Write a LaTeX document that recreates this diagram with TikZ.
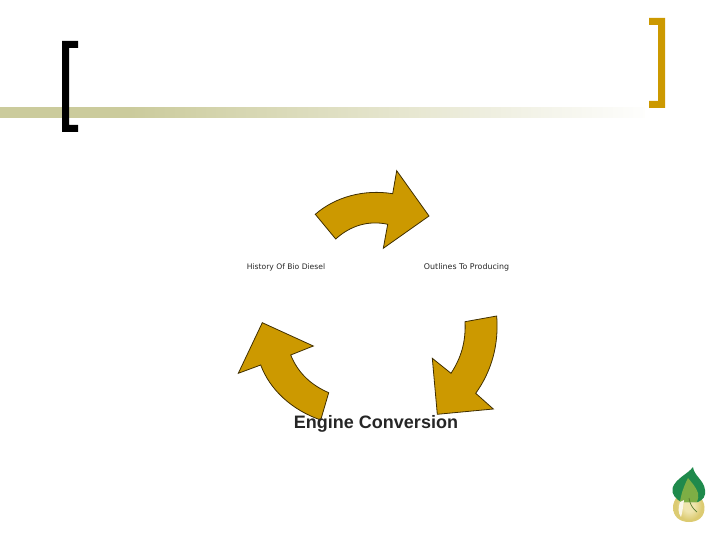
\documentclass[tikz,border=0pt]{standalone}
\usepackage{fontspec}
\setmainfont{Liberation Sans}
\newfontfamily\smallfont{DejaVu Sans}
\definecolor{gold}{HTML}{CC9900}
\definecolor{barcol}{HTML}{CBCB9C}
\definecolor{arrowline}{HTML}{3F2E00}
\definecolor{leafdark}{HTML}{1F8A4C}
\definecolor{leaflight}{HTML}{7DAE45}
\definecolor{dropcol}{HTML}{DCCB72}
\definecolor{dropin}{HTML}{EFE5AE}
\pgfdeclarehorizontalshading{barfade}{100bp}{color(0bp)=(barcol); color(35bp)=(barcol); color(76bp)=(white); color(100bp)=(white)}
\pgfdeclareradialshading{dropfade}{\pgfpoint{0bp}{-4bp}}{color(0bp)=(dropin); color(8bp)=(dropin); color(20bp)=(dropcol); color(50bp)=(dropcol)}
\tikzset{
  cyclearrow/.style={fill=gold,draw=arrowline,line width=0.8pt,line join=miter},
  smalltext/.style={font=\smallfont\fontsize{7.6}{9}\selectfont,text=black!85,inner sep=0pt},
  widertext/.style={font=\smallfont\fontsize{7.9}{9}\selectfont,text=black!85,inner sep=0pt},
  bigtext/.style={font=\bfseries\fontsize{18}{20}\selectfont,text=black!85,inner sep=0pt}
}
\begin{document}
\begin{tikzpicture}[x=1pt,y=-1pt]
\useasboundingbox (0,0) rectangle (720,540);
% title bar
\shade[shading=barfade,draw=none] (0,108) rectangle (645,118);
% left bracket
\fill[black] (62,41) -- (78,41) -- (78,48) -- (69,48) -- (69,125) -- (78,125) -- (78,132) -- (62,132) -- cycle;
% right bracket
\fill[gold] (649,18) -- (665,18) -- (665,108) -- (649,108) -- (649,101) -- (658,101) -- (658,25) -- (649,25) -- cycle;
% cycle arrows
\draw[cyclearrow] (315.3,214.3) .. controls (335,197) and (364,189) .. (392.7,193.7)
  -- (396.7,170.7) -- (429,216) -- (383.3,248.3) -- (387.7,224.3)
  .. controls (368,220) and (350,226) .. (335.7,239) -- cycle;
\draw[cyclearrow] (496.7,316) -- (465,321.7)
  .. controls (466,342) and (461,358) .. (451,373.3)
  -- (432.3,358.3) -- (437.3,414.3) -- (493.3,409) -- (475.7,393.3)
  .. controls (491,372) and (499,346) .. cycle;
\draw[cyclearrow] (328.7,392.7) .. controls (311,385) and (298,373) .. (290.7,355)
  -- (313.3,346) -- (262.3,322.7) -- (238.3,373.3) -- (260.7,365)
  .. controls (270,390) and (292,410) .. (320.7,420) -- cycle;
% labels
\node[smalltext] (history) at (286,267) {History Of Bio Diesel};
\node[widertext] (outlines) at (466.5,267) {Outlines To Producing};
\node[bigtext] (engine) at (376,423.5) {Engine Conversion};
% logo
\shade[shading=dropfade] (688,484) .. controls (680,492) and (673,500) .. (673,507)
  .. controls (673,517) and (680,522) .. (689,522)
  .. controls (698,522) and (705,517) .. (704.5,507)
  .. controls (704,499) and (696,491) .. (688,484) -- cycle;
\fill[leafdark] (693,467) .. controls (688,474) and (676,478) .. (672.5,488)
  .. controls (671,494) and (676,499) .. (681,502)
  -- (698,502)
  .. controls (703,500) and (706,496) .. (705,490)
  .. controls (704,480) and (694,476) .. (693,467) -- cycle;
\fill[leaflight] (688,478) .. controls (684,486) and (681,494) .. (680,502)
  -- (697,502) .. controls (698,499) and (699,496) .. (698,493)
  .. controls (696,487) and (692,483) .. (688,478) -- cycle;
\fill[white!85!dropcol] (680,502) .. controls (678,508) and (678,513) .. (681,517)
  .. controls (682.5,512) and (683,507) .. (684,500) -- cycle;
\draw[leaflight!70!black,line width=0.7pt] (689,498) .. controls (690,504) and (692,508) .. (697,512);
\end{tikzpicture}
\end{document}
